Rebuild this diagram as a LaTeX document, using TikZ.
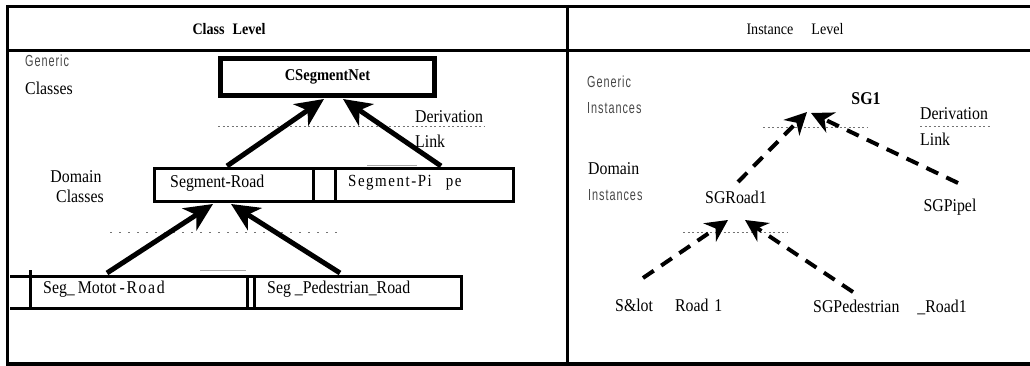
\documentclass[tikz,border=0pt]{standalone}
\usepackage{fontspec}
\setmainfont[FakeStretch=0.88]{Liberation Serif}
\newfontfamily\gsans[FakeStretch=0.68,LetterSpace=6]{Liberation Sans}
\newfontfamily\spserif[FakeStretch=0.88,LetterSpace=9]{Liberation Serif}
\usetikzlibrary{arrows.meta,calc}
\tikzset{
  frameline/.style={line width=3pt},
  bx/.style={draw,line width=3pt,inner sep=0pt,outer sep=0pt},
  txt/.style={inner sep=0pt,font=\fontsize{18}{21}\selectfont},
  hdr/.style={inner sep=0pt,font=\fontsize{16}{19}\selectfont},
  gtxt/.style={inner sep=0pt,text=black!72,font=\gsans\fontsize{16}{19}\selectfont},
  dotl/.style={black!55,line width=0.7pt,dash pattern=on 2pt off 2.5pt},
  solidarr/.style={line width=5pt,-{Stealth[length=28pt,width=26pt,inset=8pt]}},
  dasharr/.style={line width=4pt,dash pattern=on 13pt off 9pt,-{Stealth[length=22pt,width=22pt,inset=7pt]}},
  faint/.style={black!35,line width=0.8pt},
}
\begin{document}
\begin{tikzpicture}[x=1pt,y=-1pt]
\useasboundingbox (0,0) rectangle (1030,366);
% frame
\draw[frameline] (6,6.5) -- (1030,6.5);
\draw[frameline] (6,50.5) -- (1030,50.5);
\draw[frameline] (7.5,5) -- (7.5,366);
\draw[frameline] (567,5) -- (567,366);
\draw[line width=4pt] (6,364) -- (1030,364);
% headers
\node[hdr,font=\bfseries\fontsize{16}{19}\selectfont] (hcl) at (229,29) {Class\hspace{8pt}Level};
\node[hdr] (hil) at (795,29) {Instance\hspace{18pt}Level};

% ---------- Class level ----------
\node[gtxt,anchor=west] (gc1) at (25,61) {Generic};
\node[txt,anchor=west] (gc2) at (25,88) {Classes};
\node[bx,line width=5pt,minimum width=214pt,minimum height=37pt,
      font=\bfseries\fontsize{16.5}{19}\selectfont] (csn) at (327.5,77) {CSegmentNet};
\draw[dotl] (218,126) -- (485,126);
\node[txt,anchor=west] (dl1) at (415,117) {Derivation};
\node[txt,anchor=west] (dl2) at (415,141) {Link};
\node[txt] (dc1) at (76,177) {Domain};
\node[txt] (dc2) at (80,196) {Classes};
% domain class boxes
\node[bx,minimum width=159pt,minimum height=33pt] (sr) at (234,185) {};
\node[bx,minimum width=178pt,minimum height=33pt] (sp) at (424.5,185) {};
\draw[line width=3pt] (sr.north east) -- (sp.north west);
\draw[line width=3pt] (sr.south east) -- (sp.south west);
\node[txt,anchor=west] (srt) at (170,183) {Segment-Road};
\node[txt,anchor=west,font=\spserif\fontsize{17}{20}\selectfont] (spt) at (348,183) {Segment-Pi\hspace{14pt}pe};
\draw[faint] (367,165) -- (417,165);
\draw[dotl,dash pattern=on 2pt off 7pt] (110,232) -- (340,232);
% bottom boxes
\node[bx,minimum width=217pt,minimum height=32pt] (mr) at (138.5,292.5) {};
\node[bx,minimum width=207pt,minimum height=32pt] (pr) at (357.5,292.5) {};
\coordinate (lft1) at (10,276.5);
\coordinate (lft2) at (10,308.5);
\coordinate (lftt) at (30,270);
\draw[line width=3pt] (lft1) -- (mr.north west);
\draw[line width=3pt] (lftt) -- (mr.north west);
\draw[line width=3pt] (lft2) -- (mr.south west);
\draw[line width=3pt] (mr.north east) -- (pr.north west);
\draw[line width=3pt] (mr.south east) -- (pr.south west);
\draw[faint] (200,270) -- (246,270);
\node[txt,anchor=west] (mrt) at (43,289) {Seg\_\hspace{3pt}Motot\hspace{3pt}{\spserif-Road}};
\node[txt,anchor=west] (prt) at (267,289) {Seg \_Pedestrian\_Road};
% solid arrows
\coordinate (a1s) at (227,166);
\coordinate (a1e) at (324,99);
\coordinate (a2s) at (441,166);
\coordinate (a2e) at (343,99);
\coordinate (a3s) at (107,273);
\coordinate (a3e) at (213,204);
\coordinate (a4s) at (340,273);
\coordinate (a4e) at (231,204);
\draw[solidarr] (a1s) -- (a1e);
\draw[solidarr] (a2s) -- (a2e);
\draw[solidarr] (a3s) -- (a3e);
\draw[solidarr] (a4s) -- (a4e);

% ---------- Instance level ----------
\node[gtxt,anchor=west] (gi1) at (587,82) {Generic};
\node[gtxt,anchor=west] (gi2) at (587,108) {Instances};
\node[txt,font=\bfseries\fontsize{18}{21}\selectfont] (sg1) at (866,99) {SG1};
\draw[dotl] (763,127) -- (867,127);
\node[txt,anchor=west] (dl3) at (920,114) {Derivation};
\draw[dotl] (920,126) -- (990,126);
\node[txt,anchor=west] (dl4) at (920,139) {Link};
\node[txt,anchor=west] (di1) at (588,169) {Domain};
\node[gtxt,anchor=west] (di2) at (588,195) {Instances};
\node[txt] (sgr) at (736,197) {SGRoad1};
\node[txt] (sgp) at (950,207) {SGPipel};
\draw[dotl] (683,232) -- (787,232);
\node[txt,anchor=west] (smr) at (615,305) {S\&lot\hspace{22pt}Road\hspace{6pt}1};
\node[txt,anchor=west] (spr) at (813,307) {SGPedestrian\hspace{18pt}\_Road1};
% dashed arrows
\coordinate (d1s) at (738,182);
\coordinate (d1e) at (807,112);
\coordinate (d2s) at (958,183);
\coordinate (d2e) at (811,113);
\coordinate (d3s) at (643,278);
\coordinate (d3e) at (728,220);
\coordinate (d4s) at (853,292);
\coordinate (d4e) at (745,220);
\draw[dasharr] (d1s) -- (d1e);
\draw[dasharr] (d2s) -- (d2e);
\draw[dasharr] (d3s) -- (d3e);
\draw[dasharr] (d4s) -- (d4e);
\end{tikzpicture}
\end{document}
